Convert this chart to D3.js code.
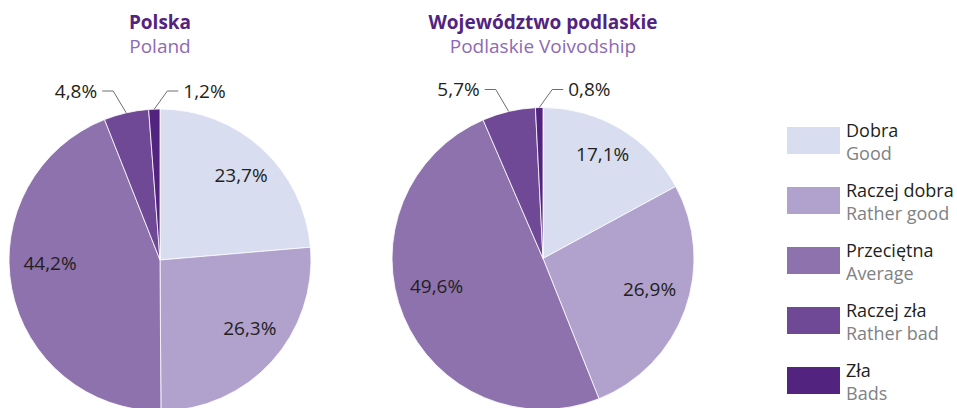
<!DOCTYPE html>
<html>
<head>
<meta charset="utf-8">
<script src="https://cdn.jsdelivr.net/npm/d3@7"></script>
<style>
  html, body { margin: 0; padding: 0; background: #ffffff; }
  svg { display: block; }
  text { font-family: "Open Sans", "Noto Sans", sans-serif; }
</style>
</head>
<body>
<svg id="chart" width="957" height="408"></svg>
<script>
// Self-assessed health: share of answers per category
const categoriesPl = ["Dobra", "Raczej dobra", "Przeciętna", "Raczej zła", "Zła"];
const categoriesEn = ["Good", "Rather good", "Average", "Rather bad", "Bads"];
const polskaValues = [23.7, 26.3, 44.2, 4.8, 1.2];
const podlaskieValues = [17.1, 26.9, 49.6, 5.7, 0.8];
const titlesPl = ["Polska", "Województwo podlaskie"];
const titlesEn = ["Poland", "Podlaskie Voivodship"];

const colors = ["#d9ddf0", "#b0a1cd", "#8e72ae", "#704996", "#52237f"];

const W = 957, H = 408;
const R = 151;
const svg = d3.select("#chart");

const color = d3.scaleOrdinal().domain(categoriesPl).range(colors);
const pie = d3.pie().sort(null).value(d => d.value);
const arc = d3.arc().innerRadius(0).outerRadius(R);
const fmt = v => v.toFixed(1).replace(".", ",") + "%";

// layout of the two pies
const pies = [
  { values: polskaValues, cx: 160, cy: 260, titlePl: titlesPl[0], titleEn: titlesEn[0],
    shift: [1.3, -5, 9], rad: [117, 113, 110] },
  { values: podlaskieValues, cx: 543, cy: 258.5, titlePl: titlesPl[1], titleEn: titlesEn[1],
    shift: [-0.9, -3.5, 8], rad: [120, 111, 110] }
];

pies.forEach(p => {
  const data = categoriesPl.map((c, i) => ({ cat: c, value: p.values[i] }));
  const arcs = pie(data);
  const g = svg.append("g").attr("transform", `translate(${p.cx},${p.cy})`);

  g.selectAll("path.slice")
    .data(arcs)
    .join("path")
    .attr("class", "slice")
    .attr("d", arc)
    .attr("fill", d => color(d.data.cat))
    .attr("stroke", "#ffffff")
    .attr("stroke-width", 0.8)
    .attr("stroke-linejoin", "round");

  // labels inside the three large slices
  arcs.slice(0, 3).forEach((a, i) => {
    const ang = (a.startAngle + a.endAngle) / 2 + p.shift[i] * Math.PI / 180;
    const r = p.rad[i];
    g.append("text")
      .attr("x", r * Math.sin(ang))
      .attr("y", -r * Math.cos(ang))
      .attr("dy", "0.35em")
      .attr("text-anchor", "middle")
      .attr("font-size", 19)
      .attr("fill", "#231f20")
      .text(fmt(a.data.value));
  });

  // callouts for the two small slices
  arcs.slice(3).forEach((a, i) => {
    const dir = i === 0 ? -1 : 1;
    const ang = (a.startAngle + a.endAngle) / 2;
    const sx = R * Math.sin(ang), sy = -R * Math.cos(ang);
    const ex = sx + dir * 13, ey = -R - 18;
    const tx = ex + dir * 11;
    g.append("polyline")
      .attr("points", [[sx, sy], [ex, ey], [tx, ey]].map(q => q.join(",")).join(" "))
      .attr("fill", "none")
      .attr("stroke", "#6d6e70")
      .attr("stroke-width", 1);
    g.append("text")
      .attr("x", tx + dir * 5)
      .attr("y", ey)
      .attr("dy", "0.35em")
      .attr("text-anchor", dir < 0 ? "end" : "start")
      .attr("font-size", 19)
      .attr("fill", "#231f20")
      .text(fmt(a.data.value));
  });

  svg.append("text")
    .attr("x", p.cx).attr("y", 29)
    .attr("text-anchor", "middle")
    .attr("font-size", 19)
    .attr("font-weight", "bold")
    .attr("fill", "#52237f")
    .text(p.titlePl);
  svg.append("text")
    .attr("x", p.cx).attr("y", 52.5)
    .attr("text-anchor", "middle")
    .attr("font-size", 19)
    .attr("fill", "#8d6ab5")
    .text(p.titleEn);
});

// legend
const legend = svg.append("g").attr("transform", "translate(787,127)");
const rows = legend.selectAll("g.row")
  .data(categoriesPl)
  .join("g")
  .attr("class", "row")
  .attr("transform", (d, i) => `translate(0,${i * 60})`);
rows.append("rect")
  .attr("width", 53).attr("height", 27)
  .attr("fill", d => color(d));
rows.append("text")
  .attr("x", 59).attr("y", 10)
  .attr("font-size", 18)
  .attr("fill", "#231f20")
  .text(d => d);
rows.append("text")
  .attr("x", 59).attr("y", 33)
  .attr("font-size", 18)
  .attr("fill", "#808285")
  .text((d, i) => categoriesEn[i]);
</script>
</body>
</html>
